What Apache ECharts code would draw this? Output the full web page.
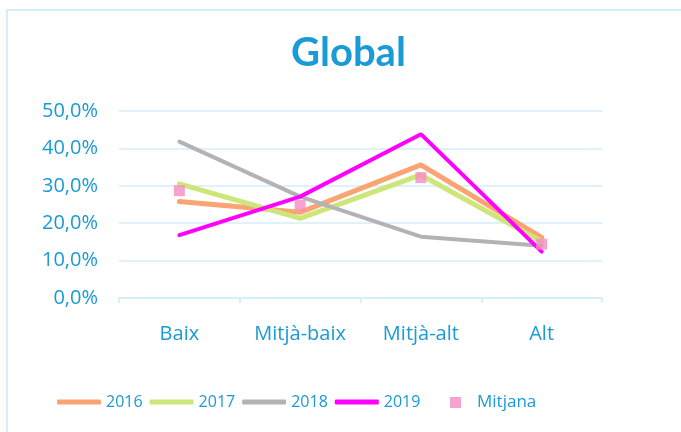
<!DOCTYPE html>
<html>
<head>
<meta charset="utf-8">
<script src="https://cdn.jsdelivr.net/npm/echarts@6/dist/echarts.min.js"></script>
<style>
  html, body { margin: 0; padding: 0; background: #fff; }
  #chart { width: 681px; height: 432px; }
</style>
</head>
<body>
<div id="chart"></div>
<script>
const categories = ["Baix", "Mitjà-baix", "Mitjà-alt", "Alt"]
const yTicks = [0, 10, 20, 30, 40, 50]

// values in percent
const v2016 = [25.8, 22.9, 35.6, 16.2]
const v2017 = [30.5, 21.3, 32.9, 15.1]
const v2018 = [41.8, 27.1, 16.4, 14.0]
const v2019 = [16.8, 27.1, 43.8, 12.4]
const mitjana = [28.7, 24.8, 32.2, 14.4]

const blue = "#1a9ad6"
const fontFam = "'Open Sans', Lato, sans-serif"

const chart = echarts.init(document.getElementById("chart"))

const lineSeries = (name, data, color, width) => ({
  name,
  type: "line",
  data,
  symbol: "none",
  lineStyle: { color, width, cap: "round" },
  itemStyle: { color },
  z: name === "2019" ? 4 : 2
})

chart.setOption({
  animation: false,
  title: {
    text: "Global",
    left: 286,
    top: 28,
    textStyle: { color: blue, fontSize: 40, fontWeight: "bold", fontFamily: "Lato, sans-serif" }
  },
  graphic: [{
    type: "rect",
    shape: { x: 7, y: 10, width: 700, height: 450 },
    style: { fill: "none", stroke: "#d6f0fb", lineWidth: 2 },
    silent: true
  }],
  grid: { left: 119, right: 79, top: 111, bottom: 134 },
  legend: [
    {
      data: ["2016", "2017", "2018", "2019"],
      icon: "roundRect",
      left: 52,
      top: 389,
      itemWidth: 44,
      itemHeight: 5,
      itemGap: 7,
      textStyle: { color: blue, fontSize: 16, fontFamily: fontFam }
    },
    {
      data: [{ name: "Mitjana", icon: "rect" }],
      left: 445,
      top: 389,
      itemWidth: 11,
      itemHeight: 11,
      textStyle: { color: blue, fontSize: 17, fontFamily: fontFam, padding: [0, 0, 0, 11] }
    }
  ],
  xAxis: {
    type: "category",
    data: categories,
    boundaryGap: true,
    axisLine: { lineStyle: { color: "#d6f0fb", width: 2 } },
    axisTick: { show: true, length: 5, lineStyle: { color: "#d6f0fb", width: 2 } },
    axisLabel: { color: blue, fontSize: 20, fontFamily: fontFam, margin: 26, interval: 0 }
  },
  yAxis: {
    type: "value",
    min: yTicks[0],
    max: yTicks[yTicks.length - 1],
    interval: 10,
    axisLine: { show: false },
    axisTick: { show: false },
    splitLine: { lineStyle: { color: "#dff2fc", width: 2 } },
    axisLabel: {
      color: blue,
      fontSize: 20,
      fontFamily: fontFam,
      margin: 21,
      formatter: v => v.toFixed(1).replace(".", ",") + "%"
    }
  },
  series: [
    lineSeries("2016", v2016, "#f9a472", 5),
    lineSeries("2017", v2017, "#cde67a", 5),
    lineSeries("2018", v2018, "#b3b2b7", 4),
    lineSeries("2019", v2019, "#ff00ff", 4),
    {
      name: "Mitjana",
      type: "scatter",
      data: mitjana,
      symbol: "rect",
      symbolSize: 11,
      itemStyle: { color: "#f58cc3" },
      z: 5
    }
  ]
})
</script>
</body>
</html>
